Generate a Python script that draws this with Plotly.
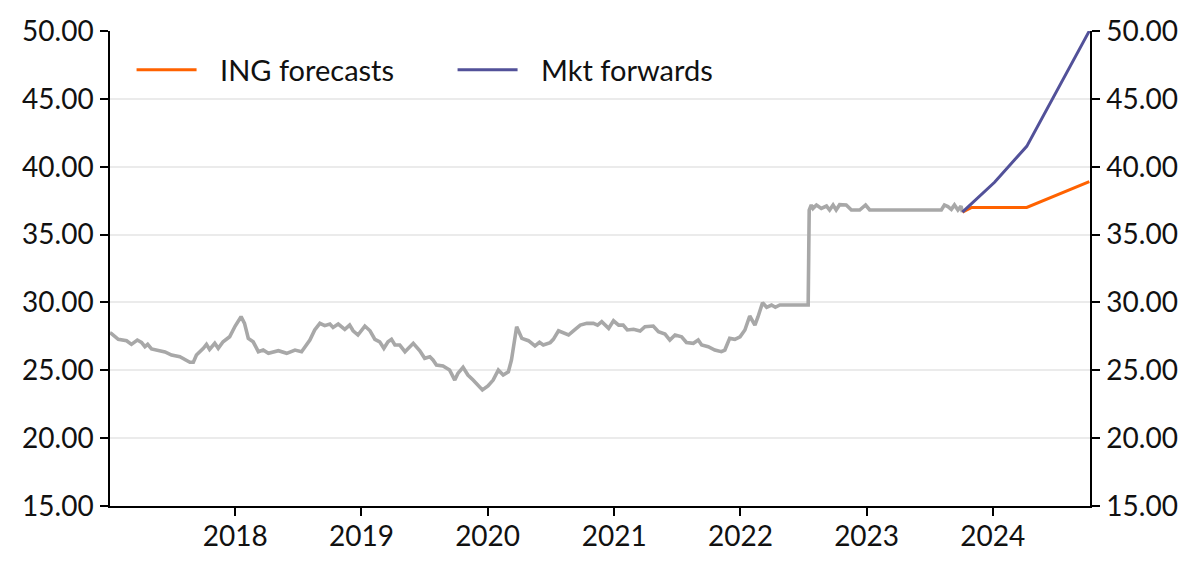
import plotly.graph_objects as go

# Historical series (grey)
hist_dates = [
    "2017-01-04", "2017-01-07", "2017-01-28", "2017-02-21", "2017-03-07", "2017-03-24", "2017-04-05",
    "2017-04-15", "2017-04-23", "2017-05-04", "2017-06-12", "2017-07-01", "2017-07-25",
    "2017-08-14", "2017-08-23", "2017-09-02", "2017-09-11", "2017-10-01", "2017-10-10",
    "2017-10-19", "2017-11-03", "2017-11-13", "2017-11-27", "2017-12-16", "2018-01-01",
    "2018-01-18", "2018-01-28", "2018-02-08", "2018-02-22", "2018-03-09", "2018-03-23",
    "2018-04-07", "2018-05-06", "2018-05-30", "2018-06-23", "2018-07-12", "2018-08-05",
    "2018-08-19", "2018-09-03", "2018-09-17", "2018-10-02", "2018-10-11", "2018-10-26",
    "2018-11-14", "2018-11-28", "2018-12-08", "2018-12-22", "2019-01-11", "2019-01-26",
    "2019-02-09", "2019-02-23", "2019-03-07", "2019-03-19", "2019-03-29", "2019-04-08",
    "2019-04-22", "2019-05-07", "2019-05-31", "2019-06-19", "2019-07-03", "2019-07-18",
    "2019-07-27", "2019-08-06", "2019-08-25", "2019-09-13", "2019-09-28", "2019-10-07",
    "2019-10-22", "2019-11-05", "2019-11-20", "2019-12-17", "2020-01-02", "2020-01-17",
    "2020-02-01", "2020-02-15", "2020-03-01", "2020-03-10", "2020-03-25", "2020-04-09",
    "2020-04-28", "2020-05-17", "2020-05-30", "2020-06-10", "2020-06-30", "2020-07-09",
    "2020-07-24", "2020-08-08", "2020-08-22", "2020-09-05", "2020-09-25", "2020-10-14",
    "2020-11-02", "2020-11-14", "2020-11-26", "2020-12-16", "2020-12-30", "2021-01-14",
    "2021-01-27", "2021-02-08", "2021-02-26", "2021-03-17", "2021-03-31", "2021-04-24",
    "2021-05-09", "2021-05-28", "2021-06-11", "2021-06-26", "2021-07-15", "2021-07-29",
    "2021-08-18", "2021-09-01", "2021-09-11", "2021-09-30", "2021-10-19", "2021-11-07",
    "2021-11-17", "2021-12-01", "2021-12-16", "2021-12-31", "2022-01-14", "2022-01-28",
    "2022-02-12", "2022-02-21", "2022-03-06", "2022-03-18", "2022-04-01", "2022-04-12",
    "2022-04-25", "2022-06-02", "2022-07-11", "2022-07-16", "2022-07-19", "2022-07-25",
    "2022-07-30", "2022-08-09", "2022-08-23", "2022-09-07", "2022-09-16", "2022-09-26",
    "2022-10-05", "2022-10-15", "2022-11-03", "2022-11-18", "2022-12-12", "2022-12-29",
    "2023-01-10", "2023-03-28", "2023-08-05", "2023-08-14", "2023-08-24", "2023-09-03",
    "2023-09-12", "2023-09-22", "2023-10-01", "2023-10-05",
]
hist_values = [
    27.75, 27.72, 27.28, 27.18, 26.91, 27.23, 27.06,
    26.74, 26.91, 26.57, 26.35, 26.12, 26.00,
    25.76, 25.59, 25.59, 26.12, 26.62, 26.91,
    26.54, 26.99, 26.62, 27.10, 27.47, 28.26,
    28.95, 28.46, 27.35, 27.10, 26.37, 26.49,
    26.25, 26.44, 26.25, 26.49, 26.37, 27.23,
    27.97, 28.46, 28.29, 28.41, 28.16, 28.41,
    28.02, 28.33, 27.91, 27.60, 28.26, 27.91,
    27.28, 27.10, 26.62, 27.10, 27.28, 26.86,
    26.86, 26.37, 26.99, 26.44, 25.88, 26.00,
    25.76, 25.39, 25.31, 25.02, 24.28, 24.77,
    25.22, 24.65, 24.28, 23.55, 23.84, 24.28,
    25.02, 24.65, 24.89, 25.76, 28.21, 27.35,
    27.18, 26.79, 27.06, 26.86, 27.04, 27.28,
    27.91, 27.72, 27.60, 27.91, 28.33, 28.46,
    28.46, 28.33, 28.58, 28.09, 28.65, 28.33,
    28.33, 27.97, 28.02, 27.89, 28.21, 28.26,
    27.84, 27.67, 27.23, 27.60, 27.47, 27.05,
    26.99, 27.23, 26.86, 26.74, 26.49, 26.37,
    26.49, 27.35, 27.28, 27.47, 27.97, 29.00,
    28.33, 28.95, 29.98, 29.64, 29.81, 29.64,
    29.81, 29.81, 29.81, 29.81, 36.81, 37.18,
    36.93, 37.18, 36.93, 37.10, 36.81, 37.18,
    36.81, 37.20, 37.18, 36.81, 36.81, 37.18,
    36.81, 36.81, 36.81, 37.18, 37.06, 36.86,
    37.18, 36.81, 37.10, 36.65,
]

ing_dates = ["2023-10-05", "2023-11-01", "2024-04-08", "2024-10-06"]
ing_values = [36.65, 37.0, 37.0, 38.9]

fwd_dates = ["2023-10-05", "2024-01-06", "2024-04-08", "2024-10-06"]
fwd_values = [36.65, 38.85, 41.5, 50.0]

y_ticks = [15, 20, 25, 30, 35, 40, 45, 50]
y_tick_labels = ["15.00", "20.00", "25.00", "30.00", "35.00", "40.00", "45.00", "50.00"]
x_tick_dates = ["2018-01-01", "2019-01-01", "2020-01-01", "2021-01-01",
                "2022-01-01", "2023-01-01", "2024-01-01"]
x_tick_labels = ["2018", "2019", "2020", "2021", "2022", "2023", "2024"]

FONT = "Lato"
FS = 28
PAD = "\u00a0\u00a0\u2009"

fig = go.Figure()
fig.add_trace(go.Scatter(x=hist_dates, y=hist_values, mode="lines",
                         line=dict(color="#a8a8a8", width=3.6), showlegend=False,
                         hoverinfo="skip"))
fig.add_trace(go.Scatter(x=ing_dates, y=ing_values, mode="lines", name=PAD + "ING forecasts",
                         line=dict(color="#ff6200", width=3)))
fig.add_trace(go.Scatter(x=fwd_dates, y=fwd_values, mode="lines", name=PAD + "Mkt forwards",
                         line=dict(color="#525199", width=3), yaxis="y2"))

axis_common = dict(range=[15, 50], tickvals=y_ticks, ticktext=y_tick_labels,
                   ticks="outside", ticklen=8, tickwidth=1.5, tickcolor="#000",
                   showline=True, linecolor="#000", linewidth=1.5,
                   tickfont=dict(family=FONT, size=FS, color="#111"),
                   zeroline=False, fixedrange=True, automargin=False)

# page body adds an 8px offset; figure is sized so it fills the 1200x572 window
fig.update_layout(
    width=1192, height=564,
    margin=dict(l=102, r=110, t=23, b=66),
    paper_bgcolor="white", plot_bgcolor="white",
    font=dict(family=FONT, size=FS, color="#111"),
    xaxis=dict(type="date", range=["2017-01-04", "2024-10-08"],
               tickvals=x_tick_dates, ticktext=x_tick_labels,
               ticks="outside", ticklen=8, tickwidth=1.5, tickcolor="#000",
               showline=True, linecolor="#000", linewidth=1.5, showgrid=False,
               automargin=False, ticklabelstandoff=-3,
               tickfont=dict(family=FONT, size=FS, color="#111")),
    yaxis=dict(**axis_common, showgrid=True, gridcolor="#ebebeb", gridwidth=1.5,
               ticklabelstandoff=1),
    yaxis2=dict(**axis_common, overlaying="y", side="right", showgrid=False,
                anchor="x", ticklabelstandoff=1),
    legend=dict(orientation="h", x=0.022, y=0.918, xanchor="left", yanchor="middle",
                bgcolor="rgba(0,0,0,0)", font=dict(family=FONT, size=29, color="#111"),
                itemwidth=60, tracegroupgap=0, entrywidthmode="pixels", entrywidth=246),
)

fig.write_html("out.html")
